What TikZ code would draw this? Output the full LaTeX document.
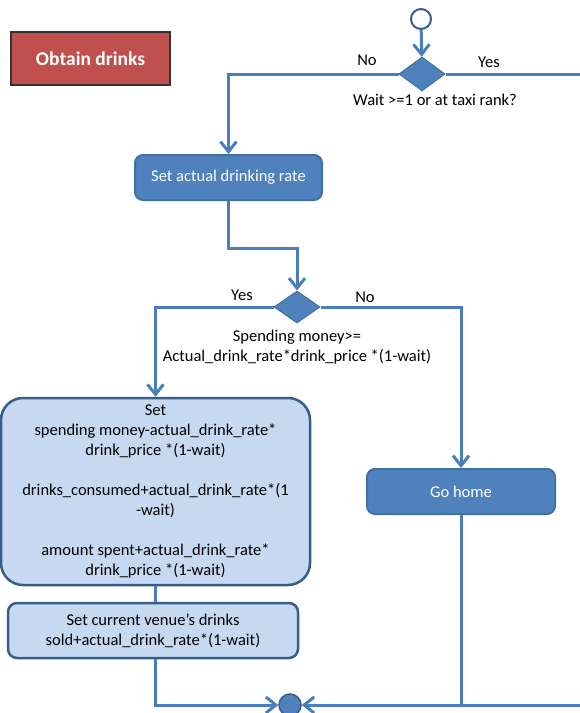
\documentclass[tikz,border=0pt]{standalone}
\usepackage{fontspec}
\setmainfont{Carlito}
\usetikzlibrary{shapes.geometric,arrows.meta}

\definecolor{flow}{HTML}{4A7EBB}
\definecolor{darkfill}{HTML}{4F81BD}
\definecolor{darkline}{HTML}{41719C}
\definecolor{lightfill}{HTML}{C6D9F1}
\definecolor{lightline}{HTML}{385D8A}
\definecolor{redfill}{HTML}{C0504D}

\tikzset{
  conn/.style={draw=flow, line width=3pt},
  arr/.style={conn, -{Straight Barb[length=10pt,width=16pt,line width=3pt]}},
  txt/.style={font=\fontsize{16.5}{20}\selectfont, text=black, inner sep=0pt, align=center},
  darkbox/.style={draw=darkline, fill=darkfill, line width=2pt, rounded corners=8pt,
    text=white, font=\fontsize{16.5}{20}\selectfont, inner sep=0pt},
  lightbox/.style={draw=lightline, fill=lightfill, line width=2.5pt,
    text=black, font=\fontsize{16.5}{20}\selectfont, inner sep=0pt, align=center},
  decision/.style={diamond, draw=darkline, fill=darkfill, line width=1pt, inner sep=0pt},
}

\begin{document}
\begin{tikzpicture}[x=1pt,y=-1pt]
\useasboundingbox (0,0) rectangle (579,713);

% title badge
\node[draw=black!80, fill=redfill, line width=2.5pt, minimum width=159pt, minimum height=53pt,
      text=white, font=\fontsize{19.5}{23}\selectfont\bfseries] (title) at (90.5,58.5) {Obtain drinks};

% initial and final nodes
\node[circle, draw=lightline, fill=white, line width=2pt, minimum size=20pt, inner sep=0pt] (start) at (421,19) {};
\node[circle, draw=lightline, fill=darkfill, line width=1.5pt, minimum size=22pt, inner sep=0pt] (merge) at (290,705) {};

% decisions
\node[decision, minimum width=46pt, minimum height=34pt] (d1) at (422,74) {};
\node[decision, minimum width=46pt, minimum height=32pt] (d2) at (297,307) {};

% actions
\node[darkbox, minimum width=187pt, minimum height=45pt] (rate) at (228.5,177.5) {Set actual drinking rate};
\node[darkbox, minimum width=188pt, minimum height=45pt] (gohome) at (461,491.5) {Go home};
\node[lightbox, rounded corners=22pt, minimum width=309pt, minimum height=187pt] (spend) at (155.5,491.5)
  {Set\\ spending money-actual\_drink\_rate*\\ drink\_price *(1-wait)\\ ~\\
   drinks\_consumed+actual\_drink\_rate*(1\\ -wait)\\ ~\\
   amount spent+actual\_drink\_rate*\\ drink\_price *(1-wait)};
\node[lightbox, rounded corners=9pt, minimum width=290pt, minimum height=55pt] (venue) at (153,630.5)
  {Set current venue’s drinks\\ sold+actual\_drink\_rate*(1-wait)};

% guards and conditions
\node[txt] (no1) at (367,60) {No};
\node[txt] (yes1) at (489,62) {Yes};
\node[txt] (cond1) at (435,100) {Wait >=1 or at taxi rank?};
\node[txt] (yes2) at (242,295) {Yes};
\node[txt] (no2) at (365,297) {No};
\node[txt] (cond2) at (297,347) {Spending money>=\\ Actual\_drink\_rate*drink\_price *(1-wait)};

% loose ends running off the right edge
\coordinate (exitR) at (580,74);
\coordinate (exitB) at (580,705);

% flows
\draw[arr] (start) -- (d1);
\draw[arr] (d1.west) -| (rate.north);
\draw[conn] (d1.east) -- (exitR);
\draw[arr] (rate.south) -- ++(0,47) -| (d2.north);
\draw[arr] (d2.west) -| (spend.north);
\draw[arr] (d2.east) -| (gohome.north);
\draw[conn] (spend.south) -- (spend.south |- venue.north);
\draw[arr] (spend.south |- venue.south) |- (merge);
\draw[conn] (gohome.south) -- (gohome.south |- merge);
\draw[arr] (exitB) -- (merge);
\end{tikzpicture}
\end{document}
